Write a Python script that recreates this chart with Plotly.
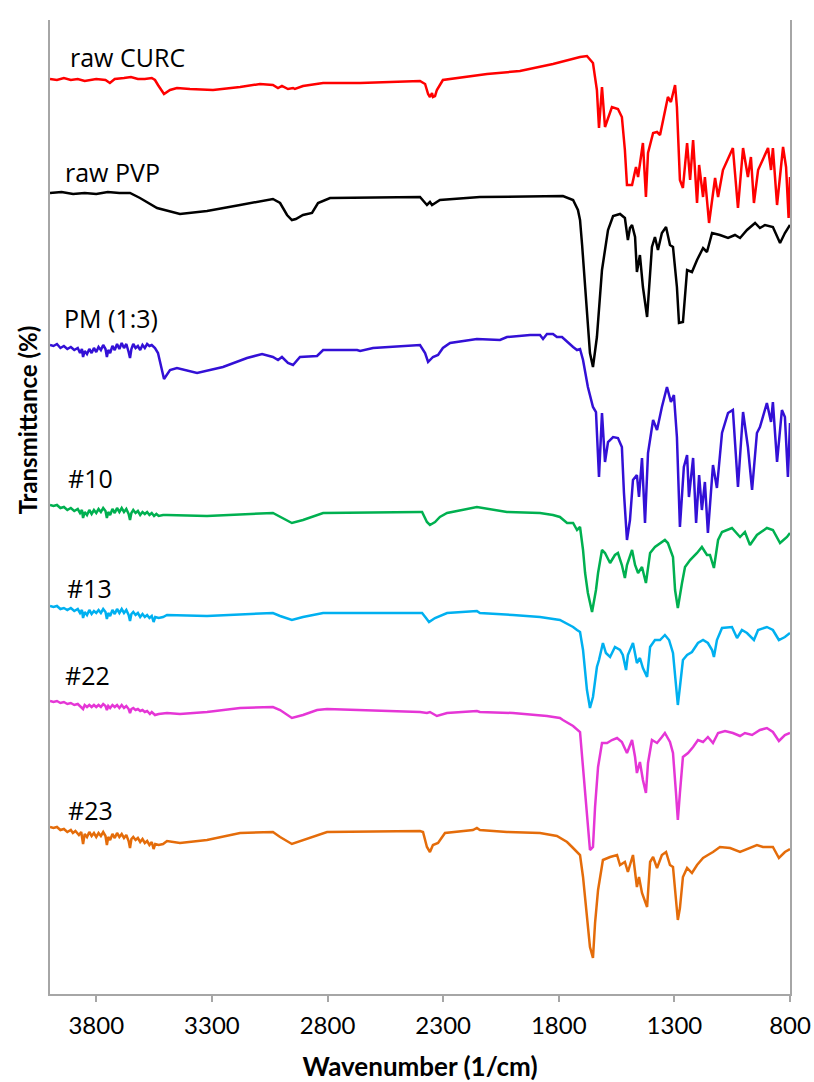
import plotly.graph_objects as go

# FTIR spectra, stacked transmittance (arbitrary offset units)
curc_wn = [4000, 3970, 3940, 3910, 3880, 3850, 3800, 3760, 3741, 3720, 3680, 3650, 3620, 3590, 3560, 3546,
           3533, 3507, 3481, 3451, 3395, 3295, 3178, 3092, 3036, 3014, 2997, 2971, 2949, 2941, 2906, 2819,
           2659, 2486, 2400, 2378, 2365, 2357, 2348, 2344, 2335, 2327, 2301, 2110, 1968, 1825, 1708, 1678,
           1652, 1635, 1626, 1613, 1600, 1570, 1544, 1527, 1514, 1505, 1483, 1466, 1457, 1436, 1423, 1414,
           1392, 1375, 1362, 1328, 1315, 1297, 1289, 1276, 1263, 1245, 1232, 1219, 1202, 1193, 1176, 1168,
           1150, 1124, 1111, 1090, 1047, 1025, 1003, 982, 969, 956, 938, 895, 882, 874, 856, 830, 817, 806, 800]
curc_T = [915, 914, 916, 914, 915, 913, 915, 914, 911, 915, 916, 917, 915, 915, 916, 914,
          909, 900, 904, 906, 905, 904, 907, 910, 909, 906, 908, 905, 906, 905, 908, 911,
          911, 912, 913, 910, 900, 897, 901, 897, 898, 904, 914, 920, 923, 930, 937, 938,
          931, 904, 866, 907, 867, 887, 885, 877, 844, 809, 809, 827, 817, 851, 797, 841,
          861, 862, 859, 897, 892, 909, 887, 814, 806, 851, 814, 854, 791, 829, 797, 817,
          771, 816, 797, 824, 846, 786, 846, 817, 837, 791, 824, 846, 824, 846, 789, 847, 827, 776, 817]

pvp_wn = [4000, 3950, 3900, 3850, 3800, 3750, 3700, 3654, 3611, 3537, 3438, 3321, 3178, 3036, 3005, 2975,
          2954, 2937, 2906, 2867, 2841, 2789, 2400, 2370, 2357, 2348, 2314, 2141, 1782, 1738, 1717, 1708,
          1699, 1686, 1665, 1652, 1635, 1613, 1587, 1565, 1535, 1514, 1501, 1492, 1483, 1470, 1462, 1449,
          1436, 1418, 1397, 1384, 1371, 1354, 1336, 1319, 1306, 1289, 1280, 1263, 1245, 1224, 1202, 1176,
          1159, 1137, 1103, 1068, 1038, 1016, 986, 951, 930, 908, 874, 843, 822, 800]
pvp_T = [801, 802, 800, 801, 800, 802, 801, 801, 796, 786, 780, 783, 789, 795, 791, 779,
         774, 775, 779, 781, 791, 796, 797, 789, 792, 789, 794, 797, 798, 794, 784, 774,
         749, 707, 641, 627, 657, 724, 764, 778, 780, 776, 754, 766, 769, 757, 722, 739,
         707, 677, 747, 757, 744, 761, 767, 749, 747, 707, 671, 672, 724, 722, 734, 746,
         742, 761, 759, 756, 759, 756, 764, 771, 766, 769, 767, 751, 761, 769]

pm_wn = [4000, 3985, 3970, 3955, 3940, 3925, 3910, 3895, 3880, 3870, 3862, 3857, 3850, 3840, 3830, 3820,
         3810, 3800, 3790, 3780, 3770, 3760, 3754, 3748, 3740, 3730, 3720, 3710, 3700, 3690, 3680, 3670,
         3660, 3654, 3648, 3640, 3630, 3620, 3610, 3600, 3590, 3580, 3570, 3560, 3546, 3533, 3507, 3481,
         3451, 3364, 3252, 3148, 3083, 3036, 3014, 2997, 2971, 2949, 2919, 2845, 2819, 2672, 2659, 2603,
         2400, 2378, 2365, 2344, 2322, 2301, 2270, 2154, 2054, 2024, 1924, 1881, 1868, 1851, 1825, 1808,
         1786, 1764, 1751, 1738, 1721, 1708, 1695, 1674, 1652, 1639, 1626, 1613, 1600, 1587, 1565, 1544,
         1527, 1518, 1505, 1492, 1479, 1462, 1453, 1440, 1427, 1414, 1392, 1375, 1354, 1332, 1315, 1302,
         1289, 1276, 1259, 1245, 1237, 1219, 1206, 1193, 1181, 1168, 1155, 1133, 1116, 1094, 1068, 1047,
         1025, 1003, 982, 964, 943, 930, 900, 882, 874, 856, 835, 822, 809, 800]
pm_T = [649, 648, 650, 646, 648, 645, 647, 644, 646, 641, 645, 637, 643, 640, 645, 641,
        646, 642, 647, 644, 649, 645, 637, 644, 641, 648, 644, 650, 645, 651, 646, 650,
        642, 636, 645, 650, 646, 648, 644, 649, 646, 650, 648, 649, 646, 641, 615, 624,
        626, 621, 627, 636, 640, 637, 634, 637, 631, 629, 637, 638, 644, 644, 643, 646,
        649, 641, 632, 637, 639, 646, 651, 655, 654, 657, 659, 659, 655, 660, 660, 657,
        657, 652, 649, 647, 644, 645, 634, 607, 587, 582, 517, 581, 532, 552, 557, 556,
        547, 501, 454, 474, 514, 519, 497, 536, 471, 541, 574, 564, 587, 607, 592, 599,
        557, 467, 527, 539, 497, 536, 471, 519, 484, 512, 461, 529, 506, 561, 581, 584,
        507, 582, 547, 504, 561, 567, 591, 572, 592, 532, 584, 577, 517, 571]

s10_wn = [4000, 3985, 3970, 3955, 3940, 3925, 3910, 3895, 3880, 3870, 3862, 3857, 3850, 3840, 3830, 3820,
          3810, 3800, 3790, 3780, 3770, 3760, 3754, 3748, 3740, 3730, 3720, 3710, 3700, 3690, 3680, 3670,
          3660, 3654, 3648, 3640, 3630, 3620, 3610, 3600, 3590, 3580, 3570, 3560, 3550, 3540, 3530, 3511,
          3494, 3321, 3036, 3005, 2954, 2906, 2819, 2400, 2391, 2370, 2357, 2335, 2314, 2283, 2154, 2024,
          1881, 1825, 1795, 1764, 1738, 1721, 1708, 1695, 1686, 1674, 1656, 1639, 1630, 1613, 1600, 1578,
          1557, 1544, 1527, 1514, 1505, 1483, 1470, 1457, 1440, 1423, 1405, 1384, 1362, 1341, 1328, 1306,
          1297, 1285, 1267, 1254, 1232, 1202, 1181, 1159, 1146, 1129, 1111, 1094, 1051, 1016, 995, 973,
          943, 900, 874, 843, 813, 800]
s10_T = [489, 488, 489, 486, 487, 484, 486, 483, 485, 481, 484, 476, 482, 479, 484, 480,
         484, 481, 485, 482, 486, 483, 476, 482, 479, 485, 481, 486, 482, 486, 482, 485,
         480, 474, 481, 484, 481, 483, 479, 482, 480, 482, 479, 481, 478, 480, 478, 479,
         479, 478, 481, 477, 471, 474, 481, 482, 482, 472, 469, 472, 477, 481, 487, 482,
         481, 479, 477, 471, 471, 464, 467, 444, 421, 401, 382, 404, 421, 444, 441, 431,
         439, 441, 429, 416, 429, 444, 429, 421, 427, 411, 441, 447, 451, 454, 451, 437,
         404, 386, 411, 427, 434, 441, 447, 439, 439, 426, 454, 462, 466, 457, 462, 449,
         459, 466, 464, 451, 457, 461]

s13_wn = [4000, 3985, 3970, 3955, 3940, 3925, 3910, 3895, 3880, 3870, 3862, 3857, 3850, 3840, 3830, 3820,
          3810, 3800, 3790, 3780, 3770, 3760, 3754, 3748, 3740, 3730, 3720, 3710, 3700, 3690, 3680, 3670,
          3660, 3654, 3648, 3640, 3630, 3620, 3610, 3600, 3590, 3580, 3570, 3560, 3552, 3545, 3530, 3511,
          3494, 3321, 3036, 3005, 2954, 2906, 2819, 2400, 2391, 2374, 2361, 2335, 2283, 2154, 2141, 1998,
          1881, 1795, 1751, 1738, 1721, 1708, 1695, 1678, 1665, 1652, 1635, 1626, 1609, 1596, 1578, 1557,
          1535, 1523, 1509, 1501, 1479, 1462, 1449, 1436, 1418, 1405, 1384, 1362, 1341, 1323, 1306, 1293,
          1285, 1276, 1263, 1245, 1224, 1198, 1176, 1155, 1137, 1129, 1116, 1094, 1051, 1029, 1008, 986,
          956, 938, 900, 874, 848, 822, 800]
s13_T = [388, 387, 388, 385, 386, 384, 386, 383, 385, 381, 384, 376, 382, 379, 384, 380,
         383, 381, 384, 381, 385, 382, 375, 381, 378, 384, 380, 385, 381, 385, 381, 384,
         379, 373, 380, 382, 379, 381, 377, 380, 377, 379, 376, 378, 372, 377, 376, 377,
         379, 378, 381, 378, 374, 377, 381, 381, 381, 376, 372, 376, 381, 383, 381, 379,
         377, 374, 369, 367, 364, 362, 344, 304, 286, 297, 327, 334, 351, 341, 337, 347,
         344, 339, 324, 339, 351, 331, 336, 326, 317, 347, 354, 354, 359, 354, 341, 304,
         289, 307, 334, 339, 342, 351, 354, 351, 344, 337, 354, 366, 367, 356, 364, 361,
         354, 364, 367, 364, 354, 357, 361]

s22_wn = [4000, 3985, 3970, 3955, 3940, 3925, 3910, 3895, 3880, 3870, 3857, 3850, 3840, 3830, 3820, 3810,
          3800, 3790, 3780, 3770, 3760, 3754, 3748, 3740, 3730, 3720, 3710, 3700, 3690, 3680, 3670, 3660,
          3654, 3648, 3640, 3630, 3620, 3610, 3600, 3590, 3580, 3568, 3560, 3546, 3530, 3494, 3438, 3321,
          3178, 3036, 3005, 2954, 2906, 2845, 2802, 2400, 2370, 2357, 2327, 2283, 2154, 2141, 1998, 1851,
          1795, 1782, 1738, 1708, 1695, 1678, 1665, 1652, 1643, 1630, 1613, 1591, 1570, 1548, 1527, 1505,
          1483, 1470, 1462, 1449, 1436, 1423, 1414, 1397, 1375, 1354, 1341, 1319, 1306, 1293, 1285, 1276,
          1263, 1241, 1219, 1198, 1176, 1155, 1133, 1111, 1081, 1047, 1016, 995, 964, 930, 900, 874,
          848, 822, 800]
s22_T = [293, 292, 293, 291, 292, 290, 291, 289, 290, 288, 285, 289, 287, 289, 287, 289,
         287, 289, 287, 290, 288, 284, 288, 286, 289, 287, 289, 286, 289, 286, 288, 285,
         281, 285, 286, 284, 285, 283, 284, 282, 283, 280, 282, 279, 280, 281, 280, 282,
         286, 287, 284, 276, 279, 284, 285, 282, 281, 282, 278, 281, 283, 282, 281, 278,
         276, 274, 268, 262, 227, 177, 144, 147, 187, 227, 251, 251, 254, 256, 252, 241,
         254, 237, 221, 232, 214, 201, 231, 254, 251, 257, 261, 252, 241, 201, 174, 201,
         237, 241, 247, 254, 252, 257, 251, 261, 263, 261, 258, 261, 259, 264, 266, 262,
         253, 259, 261]

s23_wn = [4000, 3985, 3970, 3955, 3940, 3925, 3910, 3901, 3890, 3875, 3865, 3857, 3850, 3840, 3830, 3820,
          3810, 3800, 3790, 3780, 3770, 3760, 3754, 3748, 3740, 3730, 3720, 3710, 3700, 3690, 3680, 3670,
          3660, 3654, 3648, 3640, 3630, 3620, 3610, 3600, 3590, 3580, 3570, 3560, 3552, 3545, 3530, 3511,
          3494, 3438, 3321, 3178, 3036, 3005, 2954, 2906, 2845, 2802, 2400, 2387, 2370, 2357, 2344, 2322,
          2292, 2171, 2154, 2141, 2024, 1881, 1808, 1764, 1738, 1708, 1695, 1678, 1665, 1652, 1643, 1630,
          1609, 1578, 1548, 1535, 1514, 1501, 1479, 1462, 1453, 1440, 1418, 1405, 1392, 1375, 1354, 1336,
          1319, 1306, 1293, 1285, 1276, 1263, 1245, 1224, 1202, 1176, 1155, 1133, 1103, 1059, 1016, 986,
          943, 917, 874, 848, 822, 800]
s23_T = [167, 166, 167, 164, 165, 162, 164, 161, 163, 159, 162, 150, 160, 157, 162, 158,
         161, 157, 161, 158, 162, 158, 149, 157, 154, 160, 156, 161, 157, 160, 156, 159,
         153, 146, 155, 157, 154, 156, 152, 155, 151, 153, 149, 152, 145, 150, 149, 150,
         153, 151, 154, 161, 162, 157, 150, 154, 159, 162, 163, 162, 147, 142, 149, 151,
         161, 164, 166, 164, 162, 161, 158, 152, 146, 139, 117, 74, 47, 36, 71, 104,
         134, 137, 139, 129, 132, 122, 139, 107, 117, 101, 87, 132, 137, 126, 139, 142,
         129, 127, 94, 74, 86, 117, 126, 121, 129, 136, 139, 142, 147, 146, 142, 145,
         149, 147, 147, 136, 142, 145]

series = [
    ("raw CURC", curc_wn, curc_T, "#FF0000"),
    ("raw PVP", pvp_wn, pvp_T, "#000000"),
    ("PM (1:3)", pm_wn, pm_T, "#3310D6"),
    ("#10", s10_wn, s10_T, "#00B050"),
    ("#13", s13_wn, s13_T, "#00B0F0"),
    ("#22", s22_wn, s22_T, "#E536D6"),
    ("#23", s23_wn, s23_T, "#E46C0A"),
]

# label anchor for each trace (wavenumber, offset transmittance)
label_pos = {
    "raw CURC": (3922, 937),
    "raw PVP": (3944, 822),
    "PM (1:3)": (3948, 676),
    "#10": (3931, 516),
    "#13": (3935, 406),
    "#22": (3944, 319),
    "#23": (3931, 184),
}

fig = go.Figure()
for name, wn, t, color in series:
    fig.add_trace(go.Scatter(x=wn, y=t, mode="lines", name=name,
                             line=dict(color=color, width=2.5), showlegend=False))
    lx, ly = label_pos[name]
    fig.add_annotation(x=lx, y=ly, xref="x", yref="y", text=name, showarrow=False,
                       xanchor="left", yanchor="middle",
                       font=dict(family="Open Sans", size=25, color="#000000"))

# vertical axis title, sitting beside the upper half of the stack
fig.add_annotation(x=-0.031, y=0.589, xref="paper", yref="paper",
                   text="<b>Transmittance (%)</b>", textangle=-90, showarrow=False,
                   xanchor="center", yanchor="middle",
                   font=dict(family="Lato", size=24, color="#000000"))

axis_gray = "#A6A6A6"
tick_vals = [3800, 3300, 2800, 2300, 1800, 1300, 800]

fig.update_layout(
    width=814, height=1082,
    margin=dict(l=50, r=24, t=20, b=88),
    paper_bgcolor="white", plot_bgcolor="white",
    font=dict(family="Lato", color="#000000"),
    xaxis=dict(
        range=[4000, 800], showgrid=False, zeroline=False, automargin=False,
        showline=True, linecolor=axis_gray, linewidth=2, mirror=False,
        ticks="outside", ticklen=6, tickcolor=axis_gray, tickwidth=1.5,
        tickvals=tick_vals, ticktext=[str(v) for v in tick_vals],
        tickfont=dict(family="Lato", size=24), ticklabelstandoff=3,
        title=dict(text="<b>Wavenumber (1/cm)</b>", font=dict(family="Lato", size=26), standoff=20),
    ),
    yaxis=dict(
        range=[0, 974], showgrid=False, zeroline=False, automargin=False,
        showline=True, linecolor=axis_gray, linewidth=2, mirror=True,
        showticklabels=False, ticks="",
    ),
)

fig.write_html("out.html")
